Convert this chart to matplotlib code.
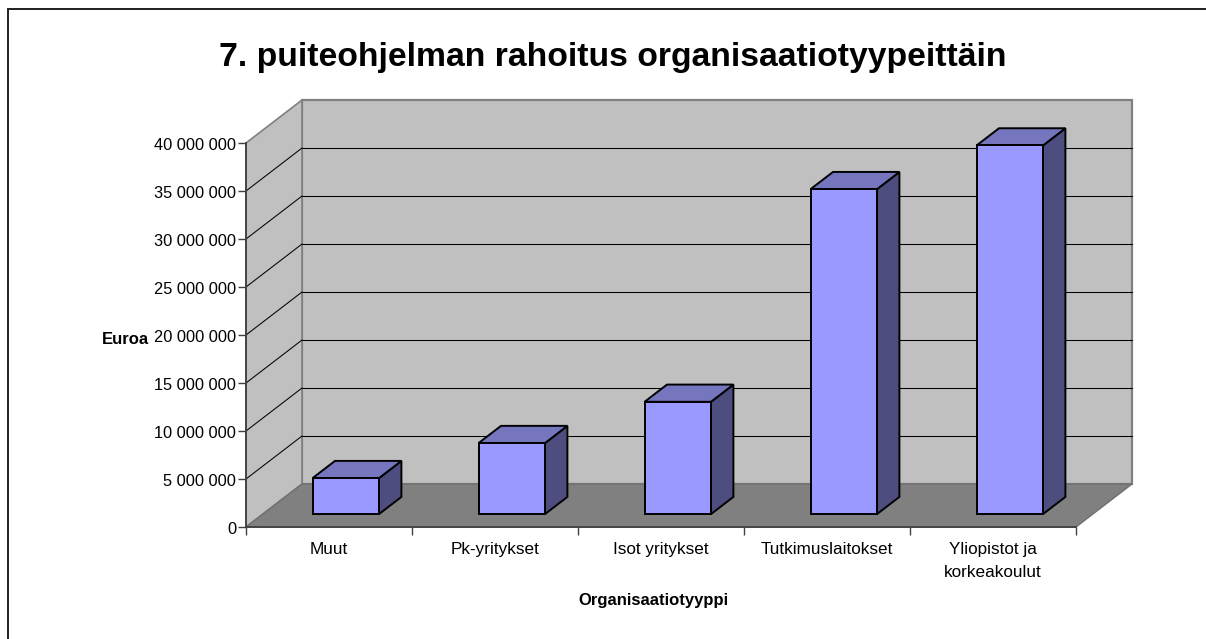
import matplotlib
matplotlib.use("Agg")
import matplotlib.pyplot as plt
from matplotlib.patches import Polygon
from matplotlib.lines import Line2D
from matplotlib.transforms import Affine2D

categories = ["Muut", "Pk-yritykset", "Isot yritykset", "Tutkimuslaitokset", "Yliopistot ja\nkorkeakoulut"]
values = [3750000, 7400000, 11700000, 33850000, 38400000]
y_ticks = [0, 5000000, 10000000, 15000000, 20000000, 25000000, 30000000, 35000000, 40000000]

plt.rcParams['font.family'] = ['Liberation Sans', 'DejaVu Sans']

W, H = 1206, 639
fig = plt.figure(figsize=(W / 100, H / 100), dpi=100)
ax = fig.add_axes([246 / W, 1 - 527 / H, 830 / W, 384 / H])
ax.set_xlim(0, 5)
ax.set_ylim(0, 40000000)

# depth of the 3d box in data units
DEPTH_X = 56 / 166
DEPTH_Y = 43 / 384 * 40000000


def proj(x, v, d):
    return (x + d * DEPTH_X, v + d * DEPTH_Y)


def face(points, color, edge, lw, z):
    ax.add_patch(Polygon([proj(*p) for p in points], closed=True, facecolor=color,
                         edgecolor=edge, linewidth=lw, zorder=z, clip_on=False,
                         joinstyle='miter'))


top = y_ticks[-1]
face([(0, 0, 1), (5, 0, 1), (5, top, 1), (0, top, 1)], '#C0C0C0', '#808080', 1.6, 1)
face([(0, 0, 0), (0, 0, 1), (0, top, 1), (0, top, 0)], '#C0C0C0', '#808080', 1.2, 1)
face([(0, 0, 0), (5, 0, 0), (5, 0, 1), (0, 0, 1)], '#808080', '#707070', 1.0, 2)

# separate segments so the back wall part stays crisp
for t in y_ticks[1:-1]:
    xs, ys = zip(proj(0, t, 0), proj(0, t, 1))
    ax.plot(xs, ys, color='black', lw=0.75, zorder=1.5, clip_on=False)
    xs, ys = zip(proj(0, t, 1), proj(5, t, 1))
    ax.plot(xs, ys, color='black', lw=0.75, zorder=1.5, clip_on=False)

# bars
bar_w = 0.4
d0, d1 = 0.3, 0.7
for i, v in enumerate(values):
    x0 = i + 0.5 - bar_w / 2
    x1 = i + 0.5 + bar_w / 2
    face([(x1, 0, d0), (x1, 0, d1), (x1, v, d1), (x1, v, d0)], '#4D4D80', 'black', 1.4, 3 + i)
    face([(x0, v, d0), (x1, v, d0), (x1, v, d1), (x0, v, d1)], '#7676BF', 'black', 1.4, 3 + i)
    face([(x0, 0, d0), (x1, 0, d0), (x1, v, d0), (x0, v, d0)], '#9999FF', 'black', 1.4, 3 + i)

for s in ['top', 'right']:
    ax.spines[s].set_visible(False)
for s in ['left', 'bottom']:
    ax.spines[s].set_color('#404040')
    ax.spines[s].set_linewidth(1.3)
    ax.spines[s].set_zorder(2.5)
ax.patch.set_visible(False)

ax.set_yticks(y_ticks)
ax.set_yticklabels([f"{t:,}".replace(",", " ") for t in y_ticks])
ax.set_xticks(range(6))
ax.set_xticklabels([])
ax.set_xticks([i + 0.5 for i in range(5)], minor=True)
ax.set_xticklabels(categories, minor=True, linespacing=1.65)
ax.tick_params(axis='y', length=5.5, width=1, color='#404040', labelsize=11.8, pad=1.5)
ax.tick_params(axis='x', which='major', length=5.5, width=1, color='#404040')
ax.tick_params(axis='x', which='minor', length=0, labelsize=12.3, pad=11)

# tick labels sit a little under their ticks
for lab in ax.get_yticklabels():
    lab.set_transform(lab.get_transform() + Affine2D().translate(0, -1.5))

ax.set_xlabel("Organisaatiotyyppi", fontsize=12, fontweight='bold')
ax.xaxis.set_label_coords((653 - 246) / 830, -(593 - 527) / 384, transform=ax.transAxes)
ax.xaxis.label.set_verticalalignment('top')
fig.text(125 / W, 1 - 339 / H, "Euroa", fontsize=12, fontweight='bold', ha='center', va='center')
fig.text(612.5 / W, 1 - 66 / H, "7. puiteohjelman rahoitus organisaatiotyypeittäin",
         fontsize=24.3, fontweight='bold', ha='center', va='baseline')

# only the top and left of the chart frame are in the picture
fig.add_artist(Line2D([7.5 / W, 7.5 / W, 1], [0, 1 - 8.5 / H, 1 - 8.5 / H], color='#202020',
                      linewidth=1.4, transform=fig.transFigure, solid_joinstyle='miter'))

fig.savefig("out.png", dpi=100)
